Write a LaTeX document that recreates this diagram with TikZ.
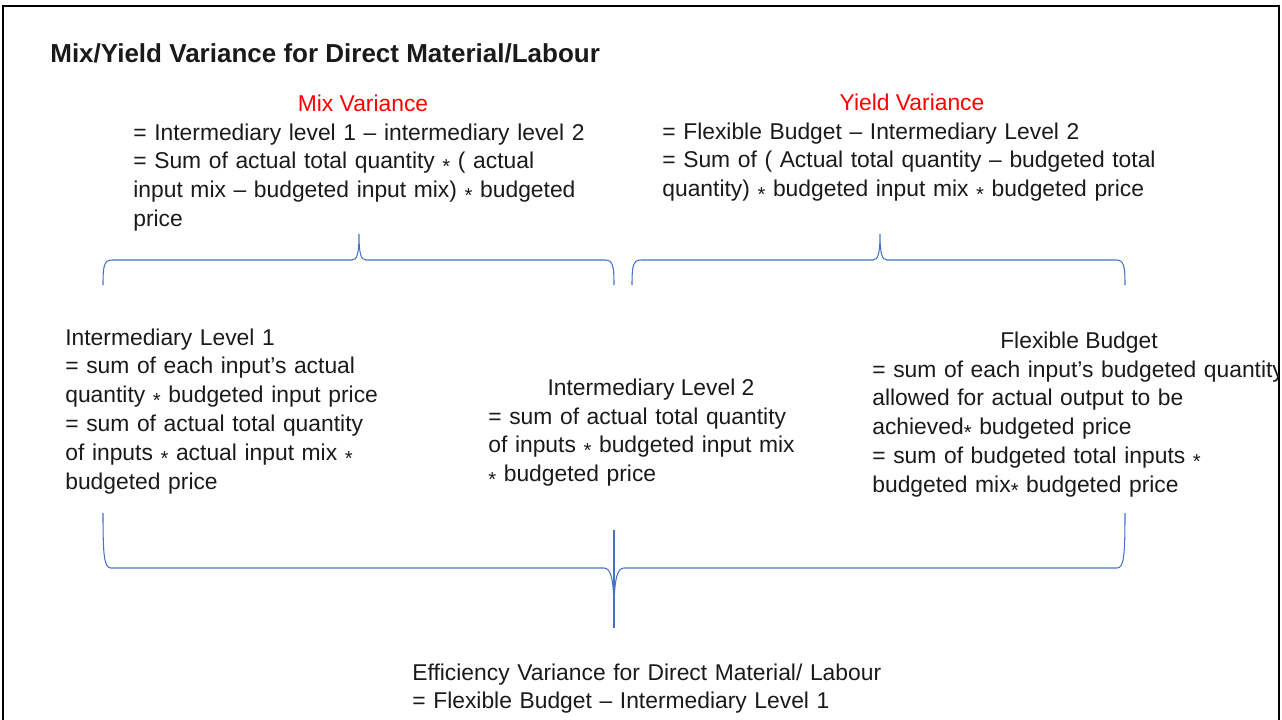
\documentclass[tikz,border=0pt]{standalone}
\usepackage{fontspec}
\setmainfont{Liberation Sans}
\usetikzlibrary{positioning}
\definecolor{ink}{HTML}{1A1A1A}
\definecolor{hdred}{HTML}{FF0000}
\definecolor{brc}{HTML}{4472C4}
% small, lowered multiplication star
\newcommand{\mul}{\raisebox{-0.2em}{\fontsize{11.5}{11}\selectfont *}}
\tikzset{
  ttl/.style={font=\fontsize{14.8}{18}\selectfont\bfseries, text=ink, inner sep=0pt, anchor=base west},
  body/.style={font=\fontsize{13}{16.5}\selectfont, text=ink, inner sep=0pt, align=left, anchor=base west, text width=#1},
  body/.default=6cm,
  hd/.style={font=\fontsize{13}{16.5}\selectfont, text=#1, inner sep=0pt, anchor=base},
  hd/.default=ink,
  bline/.style={draw=brc, line width=0.6pt},
  frame/.style={draw=black, line width=1.2pt},
}

\begin{document}
\begin{tikzpicture}[x=0.02cm, y=-0.02cm]
  \useasboundingbox (0,0) rectangle (1282,720);
  \draw[frame] (3,720) -- (3,6) -- (1279,6) -- (1279,720);

  \node[ttl] (title) at (50,62) {Mix/Yield Variance for Direct Material/Labour};

  % variances on top
  \node[hd=hdred] (mixhd) at (363,111) {Mix Variance};
  \node[body=9.2cm] (mix) at (133,140) {= Intermediary level 1 -- intermediary level 2\\= Sum of actual total quantity \mul{} ( actual\\input mix -- budgeted input mix) \mul{} budgeted\\price};
  \node[hd=hdred] (yldhd) at (912,110) {Yield Variance};
  \node[body=10cm] (yld) at (662,139) {= Flexible Budget -- Intermediary Level 2\\= Sum of ( Actual total quantity -- budgeted total\\quantity) \mul{} budgeted input mix \mul{} budgeted price};

  % the three levels
  \begin{scope}
    \clip (0,0) rectangle (1278,720);
    \node[body=7cm] (lvl1) at (65,345) {Intermediary Level 1\\= sum of each input’s actual\\quantity \mul{} budgeted input price\\= sum of actual total quantity\\of inputs \mul{} actual input mix \mul\\budgeted price};
    \node[hd] (lvl2hd) at (651,395) {Intermediary Level 2};
    \node[body=7cm] (lvl2) at (488,424) {= sum of actual total quantity\\of inputs \mul{} budgeted input mix\\\mul{} budgeted price};
    \node[hd] (flexhd) at (1079,348) {Flexible Budget};
    \node[body=9cm] (flex) at (872,377) {= sum of each input’s budgeted quantity\\allowed for actual output to be\\achieved\mul{} budgeted price\\= sum of budgeted total inputs \mul\\budgeted mix\mul{} budgeted price};
  \end{scope}

  \node[body=12cm] (eff) at (412,680) {Efficiency Variance for Direct Material/ Labour\\= Flexible Budget -- Intermediary Level 1};

  % braces
  \draw[bline] (103,285) .. controls (103,266) and (104,260) .. (112,260) -- (352,260)
    .. controls (357,260) and (359,254) .. (359,234) .. controls (359,254) and (361,260) .. (366,260)
    -- (605,260) .. controls (613,260) and (614,266) .. (614,285);
  \draw[bline] (632,285) .. controls (632,266) and (633,260) .. (641,260) -- (873,260)
    .. controls (878,260) and (880,254) .. (880,234) .. controls (880,254) and (882,260) .. (887,260)
    -- (1116,260) .. controls (1124,260) and (1125,266) .. (1125,285);
  \draw[bline] (103,513) .. controls (103,555) and (104,568) .. (111,568) -- (604,568)
    .. controls (611,568) and (614,580) .. (614,612) .. controls (614,580) and (617,568) .. (624,568)
    -- (1117,568) .. controls (1124,568) and (1125,555) .. (1125,513);
  \draw[bline, line width=0.8pt] (614,530) -- (614,628);
\end{tikzpicture}
\end{document}
